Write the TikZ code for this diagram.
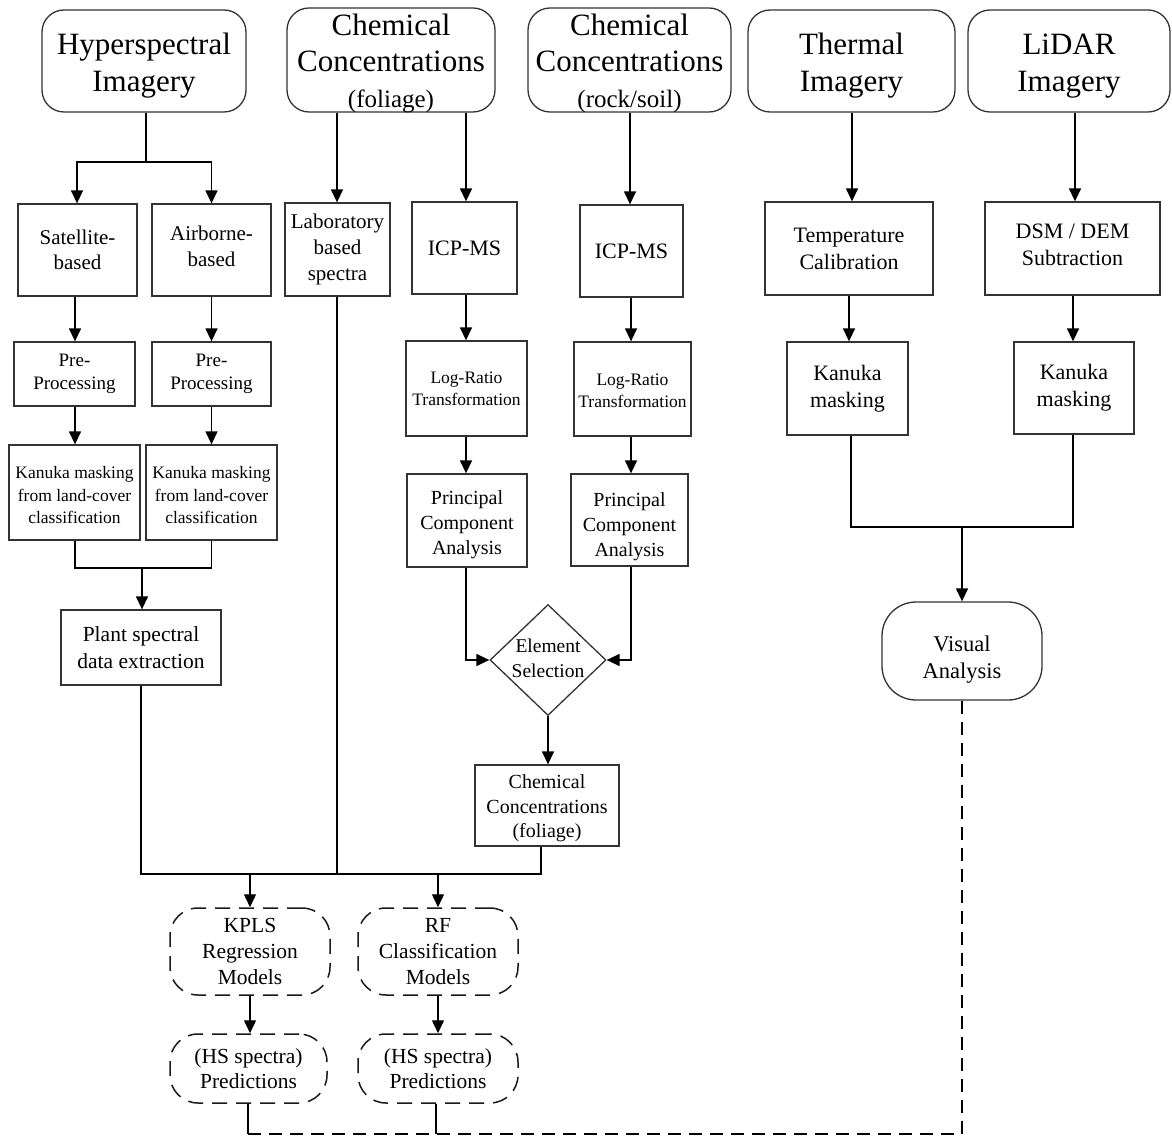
\documentclass[tikz,border=0pt]{standalone}
\usepackage{fontspec}
\setmainfont{Liberation Serif}
\usetikzlibrary{arrows.meta,shapes.geometric}
\tikzset{
  base/.style={draw=black!80, line width=1.3pt, align=center, inner sep=0pt, font=\fontsize{21}{26}\selectfont},
  sz/.style 2 args={minimum width=#1pt, minimum height=#2pt},
  lbl/.style={align=center, inner sep=0pt, draw=none},
  box/.style={base, rectangle},
  term/.style={base, rounded corners=22pt, font=\fontsize{31}{36}\selectfont},
  dbox/.style={base, draw=black!90, line width=1.5pt, dash pattern=on 15pt off 9pt, rounded corners=28pt},
  pill/.style={base, rounded corners=34pt},
  dia/.style={base, diamond, aspect=1.05},
  arr/.style={line width=1.4pt, -{Triangle[length=13pt,width=12pt]}},
  ln/.style={line width=1.4pt},
  dln/.style={line width=1.7pt, dash pattern=on 13pt off 8pt},
}
\begin{document}
\begin{tikzpicture}[x=1pt,y=-1pt]
\useasboundingbox (0,0) rectangle (1172,1139);
% top row
\node[term, sz={204}{102}, label={[lbl, font=\fontsize{31}{37}\selectfont, yshift=-5pt]center:{Hyperspectral\\Imagery}}] (hs) at (144,61) {};
\node[term, sz={208}{104}, label={[lbl, font=\fontsize{31}{36}\selectfont, yshift=-3pt]center:{Chemical\\Concentrations\\{\fontsize{25}{35}\selectfont (foliage)}}}] (cf) at (391,60) {};
\node[term, sz={203}{104}, label={[lbl, font=\fontsize{31}{36}\selectfont, yshift=-3pt]center:{Chemical\\Concentrations\\{\fontsize{25}{35}\selectfont (rock/soil)}}}] (cr) at (629.5,60) {};
\node[term, sz={207}{102}, label={[lbl, font=\fontsize{31}{37}\selectfont, yshift=-5pt]center:{Thermal\\Imagery}}] (th) at (851.5,61) {};
\node[term, sz={202}{102}, label={[lbl, font=\fontsize{31}{37}\selectfont, yshift=-5pt]center:{LiDAR\\Imagery}}] (li) at (1069,61) {};
% second row
\node[box, sz={119}{92}, font=\fontsize{21}{25}\selectfont] (sat) at (77.5,250) {Satellite-\\based};
\node[box, sz={119}{92}, label={[lbl, font=\fontsize{21}{26}\selectfont, yshift=4pt]center:{Airborne-\\based}}] (air) at (211.5,250) {};
\node[box, sz={105}{93}] (lab) at (337.5,249.5) {Laboratory\\based\\spectra};
\node[box, sz={105}{92}, font=\fontsize{22}{26}\selectfont] (icpa) at (464.5,248) {ICP-MS};
\node[box, sz={103}{92}, font=\fontsize{22}{26}\selectfont] (icpb) at (631.5,251) {ICP-MS};
\node[box, sz={168}{93}, font=\fontsize{22}{27}\selectfont] (tc) at (849,248.5) {Temperature\\Calibration};
\node[box, sz={175}{93}, label={[lbl, font=\fontsize{22}{27}\selectfont, yshift=3.5pt]center:{DSM / DEM\\Subtraction}}] (dsm) at (1072.5,248.5) {};
% third row
\node[box, sz={121}{64}, font=\fontsize{19}{23}\selectfont] (prea) at (74.5,374) {Pre-\\Processing};
\node[box, sz={119}{64}, font=\fontsize{19}{23}\selectfont] (preb) at (211.5,374) {Pre-\\Processing};
\node[box, sz={121}{95}, font=\fontsize{17.5}{22}\selectfont] (lra) at (466.5,388.5) {Log-Ratio\\Transformation};
\node[box, sz={117}{94}, label={[lbl, font=\fontsize{17.5}{22}\selectfont, yshift=-2pt]center:{Log-Ratio\\Transformation}}] (lrb) at (632.5,389) {};
\node[box, sz={121}{93}, font=\fontsize{22}{27}\selectfont] (kmc) at (847.5,388.5) {Kanuka\\masking};
\node[box, sz={120}{92}, font=\fontsize{22}{27}\selectfont] (kmd) at (1074,388) {Kanuka\\masking};
% fourth row
\node[box, sz={131}{95}, label={[lbl, font=\fontsize{17.5}{22.5}\selectfont, yshift=-3pt]center:{Kanuka masking\\from land-cover\\classification}}] (kma) at (74.5,492.5) {};
\node[box, sz={131}{95}, label={[lbl, font=\fontsize{17.5}{22.5}\selectfont, yshift=-3pt]center:{Kanuka masking\\from land-cover\\classification}}] (kmb) at (211.5,492.5) {};
\node[box, sz={120}{93}, label={[lbl, font=\fontsize{20}{25}\selectfont, yshift=-4pt]center:{Principal\\Component\\Analysis}}] (pcaa) at (467,520.5) {};
\node[box, sz={117}{92}, label={[lbl, font=\fontsize{20}{25}\selectfont, yshift=-7pt]center:{Principal\\Component\\Analysis}}] (pcab) at (629.5,520) {};
% fifth row
\node[box, sz={160}{75}, font=\fontsize{21.5}{27}\selectfont] (plant) at (141,647.5) {Plant spectral\\data extraction};
\node[dia, sz={116}{111}, label={[lbl, font=\fontsize{19.5}{25}\selectfont, yshift=2pt]center:{Element\\Selection}}] (es) at (548,660) {};
\node[pill, sz={160}{98}, label={[lbl, font=\fontsize{22.5}{27}\selectfont, yshift=-9pt]center:{Visual\\Analysis}}] (va) at (962,651) {};
\node[box, sz={144}{81}, label={[lbl, font=\fontsize{20}{24.5}\selectfont, yshift=-3pt]center:{Chemical\\Concentrations\\(foliage)}}] (ccf) at (547,805.5) {};
% models
\node[dbox, sz={160}{87}, font=\fontsize{21.5}{26}\selectfont] (kpls) at (250,951.5) {KPLS\\Regression\\Models};
\node[dbox, sz={160}{87}, font=\fontsize{21.5}{26}\selectfont] (rf) at (438,951.5) {RF\\Classification\\Models};
\node[dbox, sz={157}{69}, font=\fontsize{21.5}{25}\selectfont] (pa) at (248.5,1068.5) {(HS spectra)\\Predictions};
\node[dbox, sz={160}{69}, font=\fontsize{21.5}{25}\selectfont] (pb) at (438,1068.5) {(HS spectra)\\Predictions};

% junction coordinates
\coordinate (j1) at (146,162);
\coordinate (j2) at (142,568);
\coordinate (j3) at (962,527);
\coordinate (bl) at (248,1134);
\coordinate (br) at (962,1134);
\coordinate (bm) at (436,1134);

% connectors: hyperspectral
\draw[ln] (hs.south -| j1) -- (j1);
\draw[arr] (j1) -| (sat.north -| 77,0);
\draw[arr] (j1) -| (air.north);
\draw[arr] (sat.south -| 75,0) -- (prea.north -| 75,0);
\draw[arr] (air.south) -- (preb.north);
\draw[arr] (prea.south -| 75,0) -- (kma.north -| 75,0);
\draw[arr] (preb.south) -- (kmb.north);
\draw[ln] (kma.south -| 75,0) |- (j2);
\draw[ln] (kmb.south) |- (j2);
\draw[arr] (j2) -- (plant.north -| j2);
% chemical foliage
\draw[arr] (cf.south -| 337,0) -- (lab.north -| 337,0);
\draw[arr] (cf.south -| 466,0) -- (icpa.north -| 466,0);
\draw[arr] (icpa.south -| 466,0) -- (lra.north -| 466,0);
\draw[arr] (lra.south -| 466,0) -- (pcaa.north -| 466,0);
\draw[arr] (pcaa.south -| 466,0) |- (es.west);
% chemical rock/soil
\draw[arr] (cr.south -| 630,0) -- (icpb.north -| 630,0);
\draw[arr] (icpb.south -| 631,0) -- (lrb.north -| 631,0);
\draw[arr] (lrb.south -| 631,0) -- (pcab.north -| 631,0);
\draw[arr] (pcab.south -| 631,0) |- (es.east);
\draw[arr] (es.south) -- (ccf.north -| es.south);
% thermal / lidar
\draw[arr] (th.south -| 852,0) -- (tc.north -| 852,0);
\draw[arr] (li.south -| 1075,0) -- (dsm.north -| 1075,0);
\draw[arr] (tc.south -| 849,0) -- (kmc.north -| 849,0);
\draw[arr] (dsm.south -| 1073,0) -- (kmd.north -| 1073,0);
\draw[ln] (kmc.south -| 851,0) |- (j3);
\draw[ln] (kmd.south -| 1073,0) |- (j3);
\draw[arr] (j3) -- (va.north);
% merge to models
\coordinate (m1) at (141,874);
\coordinate (m2) at (541,874);
\draw[ln] (plant.south -| m1) -- (m1) -- (m2) -- (ccf.south -| m2);
\draw[ln] (lab.south -| 337,0) -- (337,874);
\draw[arr] (250,874) -- (kpls.north);
\draw[arr] (438,874) -- (rf.north);
\draw[arr] (kpls.south) -- (pa.north -| kpls.south);
\draw[arr] (rf.south) -- (pb.north);
% bottom dashed
\draw[ln, line width=1.2pt] (pa.south -| bl) -- (bl);
\draw[ln, line width=1.2pt] (pb.south -| bm) -- (bm);
\draw[dln] (va.south) -- (br) -- (bl);
\end{tikzpicture}
\end{document}
